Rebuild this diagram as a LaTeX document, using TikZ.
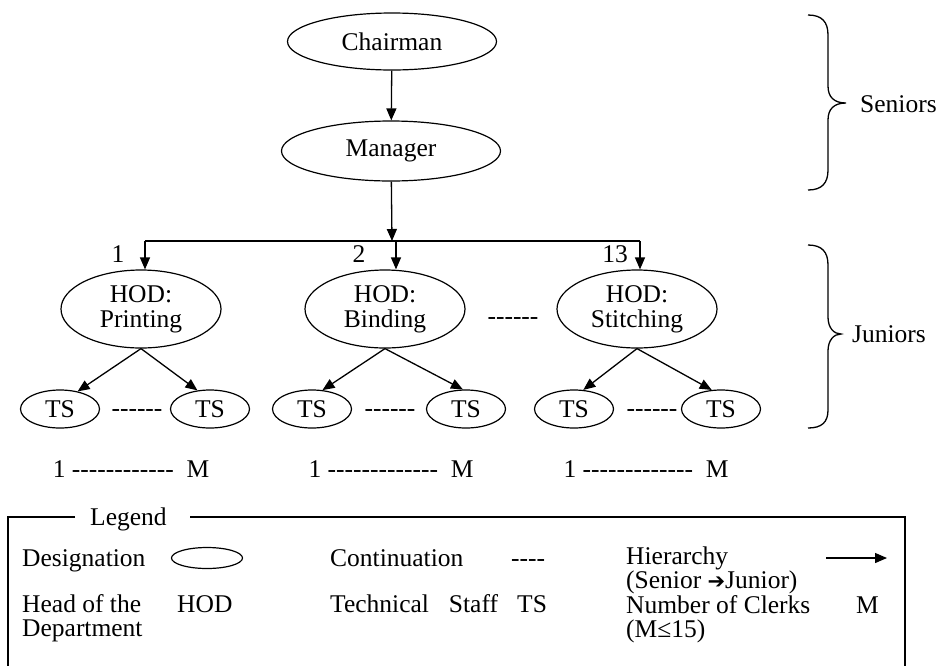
\documentclass[tikz,border=0pt]{standalone}
\usepackage{fontspec}
\setmainfont{Liberation Serif}[Ligatures=TeXOff]
\newfontfamily\symfont{DejaVu Sans}
\usetikzlibrary{shapes.geometric,arrows.meta}
\tikzset{
  txt/.style={font=\fontsize{25.5}{25}\selectfont, inner sep=0pt},
  oval/.style={ellipse, draw, line width=1.2pt, inner sep=0pt, txt, align=center},
  hodbox/.style={oval, minimum width=160pt, minimum height=78pt},
  tsbox/.style={oval, minimum width=79pt, minimum height=38pt},
  link/.style={line width=1.3pt, -{Triangle[length=12pt,width=10pt]}},
  plain/.style={line width=1.3pt},
  lbl/.style={txt, anchor=base west},
  mid/.style={txt, anchor=base},
}
\begin{document}
\begin{tikzpicture}[x=1pt,y=-1pt]
\useasboundingbox (0,0) rectangle (937,665);

% senior positions
\node[oval, minimum width=209pt, minimum height=57pt] (chair) at (392,41.5) {Chairman};
\node[oval, minimum width=219pt, minimum height=60pt] (mgr) at (391,151) {Manager};
\draw[link] (chair) -- (mgr);

% distribution bar
\coordinate (bar1) at (145,241);
\coordinate (bar2) at (396,241);
\coordinate (bar3) at (640,241);
\coordinate (mgrbar) at (392,241);
\draw[link] (mgr) -- (mgrbar);
\draw[plain] (bar1) -- (bar3);

% heads of department
\node[hodbox] (hod1) at (141,309) {HOD:\\Printing};
\node[hodbox] (hod2) at (385,309) {HOD:\\Binding};
\node[hodbox] (hod3) at (637,309) {HOD:\\Stitching};
\draw[link] (bar1) -- (bar1 |- hod1.north);
\draw[link] (bar2) -- (bar2 |- hod2.north);
\draw[link] (bar3) -- (bar3 |- hod3.north);
\node[mid] (n1) at (118,262) {1};
\node[mid] (n2) at (359,262) {2};
\node[mid] (n3) at (615,262) {13};
\node[mid] (hdots) at (513,324) {------};

% technical staff
\node[tsbox] (ts1a) at (60,409) {TS};
\node[tsbox] (ts1b) at (210,409) {TS};
\node[tsbox] (ts2a) at (312,409) {TS};
\node[tsbox] (ts2b) at (466,409) {TS};
\node[tsbox] (ts3a) at (574,409) {TS};
\node[tsbox] (ts3b) at (721,409) {TS};
\draw[link] (hod1.south) -- (ts1a.45);
\draw[link] (hod1.south) -- (ts1b.124);
\draw[link] (hod2.south) -- (ts2a.61);
\draw[link] (hod2.south) -- (ts2b.99);
\draw[link] (hod3.south) -- (ts3a.64);
\draw[link] (hod3.south) -- (ts3b.116);
\node[mid] (d1) at (137,416) {------};
\node[mid] (d2) at (390,416) {------};
\node[mid] (d3) at (652,416) {------};

% clerk ranges
\node[mid] (r1) at (131,477) {1 ------------\ \ M};
\node[mid] (r2) at (391,477) {1 -------------\ \ M};
\node[mid] (r3) at (646,477) {1 -------------\ \ M};

% braces
\draw[plain] (808,15) .. controls (822,15) and (828,22) .. (828,35)
  -- (828,86) .. controls (828,97) and (834,103) .. (846,103)
  .. controls (834,103) and (828,109) .. (828,120)
  -- (828,170) .. controls (828,183) and (822,190) .. (808,190);
\node[lbl] (sen) at (860,112) {Seniors};
\draw[plain] (808,245) .. controls (822,245) and (828,252) .. (828,265)
  -- (828,317) .. controls (828,328) and (834,334) .. (841,334)
  .. controls (834,334) and (828,340) .. (828,351)
  -- (828,410) .. controls (828,422) and (822,428) .. (808,428);
\node[lbl] (jun) at (852,342) {Juniors};

% legend frame
\draw[plain] (75,517) -- (8,517) -- (8,668);
\draw[plain] (190,517) -- (905,517) -- (905,668);
\node[lbl] (leg) at (90,525) {Legend};

% legend entries
\node[lbl] (l1) at (22,566) {Designation};
\node[oval, minimum width=71pt, minimum height=21pt] (lov) at (207,558) {};
\node[lbl] (l2) at (330,566) {Continuation};
\node[lbl] (l3) at (511,566) {----};
\node[lbl] (l4) at (626,564) {Hierarchy};
\coordinate (la) at (826,558);
\coordinate (lb) at (887,558);
\draw[link] (la) -- (lb);
\node[lbl] (l5) at (626,588) {(Senior {\symfont\bfseries\fontsize{21}{21}\selectfont ➔}Junior)};
\node[lbl] (l6) at (22,612) {Head of the};
\node[lbl] (l7) at (177,612) {HOD};
\node[lbl] (l8) at (22,636) {Department};
\node[lbl] (l9) at (330,612) {Technical\hspace{20pt}Staff};
\node[lbl] (l10) at (517,612) {TS};
\node[lbl] (l11) at (626,613) {Number of Clerks};
\node[lbl] (l12) at (856,613) {M};
\node[lbl] (l13) at (626,637) {(M≤15)};
\end{tikzpicture}
\end{document}
